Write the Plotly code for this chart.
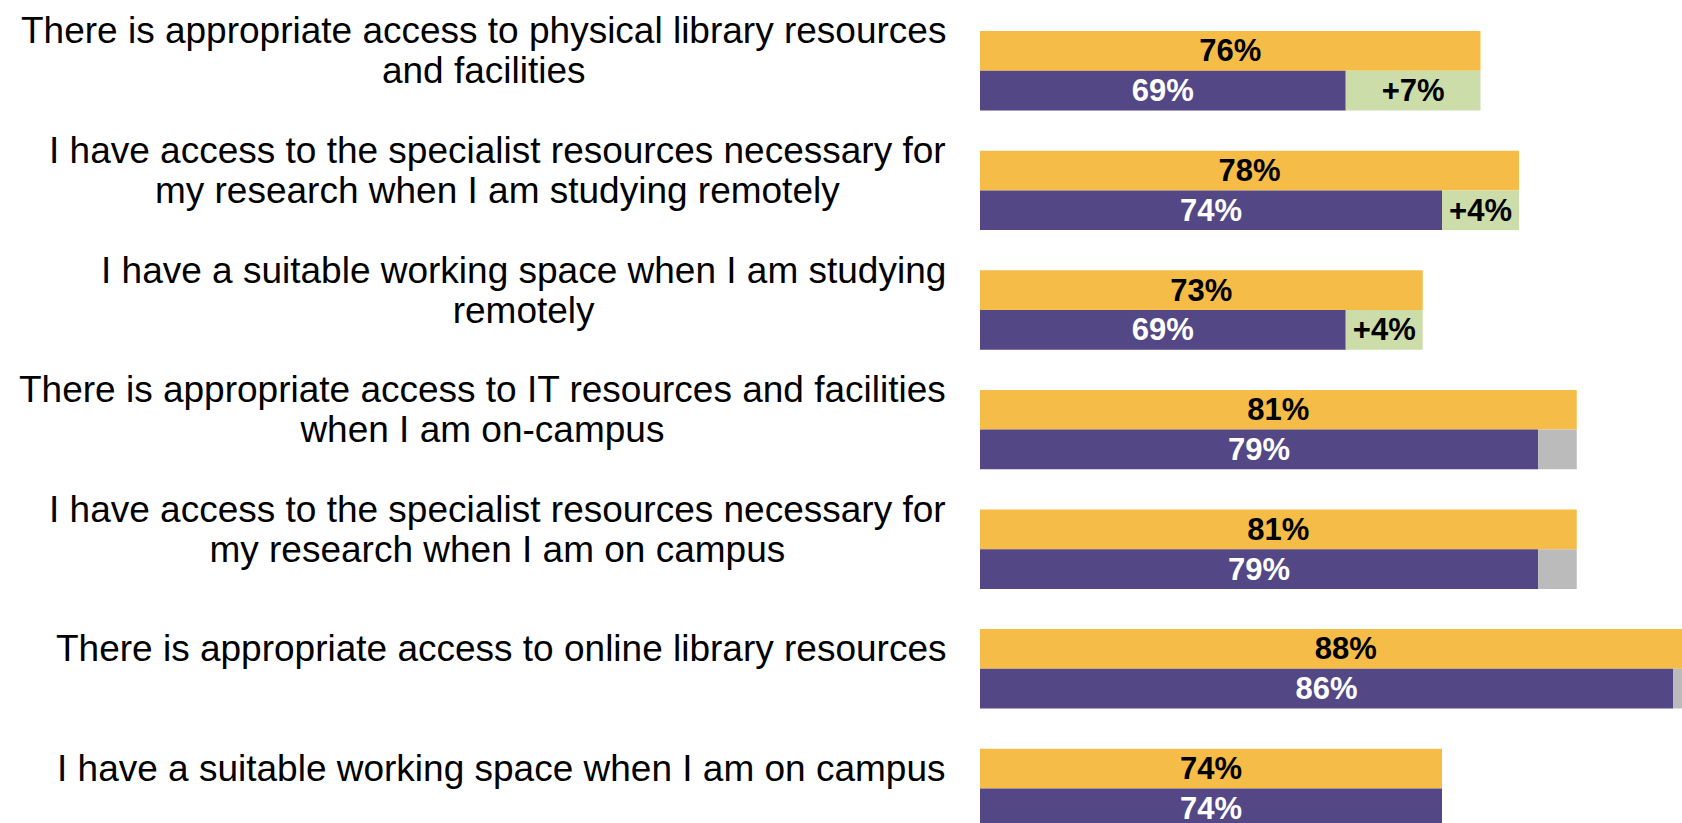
import plotly.graph_objects as go

# Survey statements, one row per statement
categories = [
    "There is appropriate access to physical library resources<br>and facilities",
    "I have access to the specialist resources necessary for<br>my research when I am studying remotely",
    "I have a suitable working space when I am studying<br>remotely",
    "There is appropriate access to IT resources and facilities<br>when I am on-campus",
    "I have access to the specialist resources necessary for<br>my research when I am on campus",
    "There is appropriate access to online library resources",
    "I have a suitable working space when I am on campus",
]

# Percentage agreeing (upper bar) and comparison group (lower bar)
top_values = [76, 78, 73, 81, 81, 88, 74]
bottom_values = [69, 74, 69, 79, 79, 86, 74]
# Whether the gap between the two is flagged as significant
significant = [True, True, True, False, False, False, False]

YELLOW = "#F5BD47"
PURPLE = "#544786"
GREEN = "#CCDDAA"
GREY = "#BBBBBB"

AXIS_MIN = 50
BAR_W = 0.332
LABEL_FONT = "Liberation Sans, Arial, sans-serif"

rows = list(range(len(categories)))
gaps = [t - b for t, b in zip(top_values, bottom_values)]

fig = go.Figure()

common = dict(
    orientation="h",
    base=AXIS_MIN,
    width=BAR_W,
    textposition="inside",
    insidetextanchor="middle",
    textangle=0,
    constraintext="none",
    hoverinfo="skip",
    marker_line_width=0,
)

fig.add_trace(go.Bar(
    y=rows,
    x=[v - AXIS_MIN for v in top_values],
    offset=-BAR_W,
    marker_color=YELLOW,
    text=[f"{v}%" for v in top_values],
    textfont=dict(family=LABEL_FONT, size=31, color="black", weight="bold"),
    **common,
))

fig.add_trace(go.Bar(
    y=rows,
    x=[v - AXIS_MIN for v in bottom_values],
    offset=0,
    marker_color=PURPLE,
    text=[f"{v}%" for v in bottom_values],
    textfont=dict(family=LABEL_FONT, size=31, color="white", weight="bold"),
    **{k: v for k, v in common.items()},
))

gap_common = {k: v for k, v in common.items() if k != "base"}
fig.add_trace(go.Bar(
    y=rows,
    x=gaps,
    base=bottom_values,
    offset=0,
    marker_color=[GREEN if s else GREY for s in significant],
    text=[f"+{g}%" if s and g > 0 else "" for g, s in zip(gaps, significant)],
    textfont=dict(family=LABEL_FONT, size=31, color="black", weight="bold"),
    **gap_common,
))

# Statement labels, right-aligned block with centred lines
for i, label in enumerate(categories):
    lines = label.split("<br>")
    txt = "<br>".join(f'<span style="font-size:37px">{ln}</span>' for ln in lines)
    fig.add_annotation(
        x=0, xref="paper", xshift=-32,
        y=i - BAR_W / 2, yref="y",
        xanchor="right", yanchor="middle",
        align="center",
        text=txt,
        showarrow=False,
        font=dict(family=LABEL_FONT, size=30.5, color="black"),
    )

fig.update_layout(
    width=1682,
    height=823,
    margin=dict(l=980, r=0, t=0, b=0),
    paper_bgcolor="white",
    plot_bgcolor="white",
    barmode="overlay",
    showlegend=False,
    xaxis=dict(range=[AXIS_MIN, AXIS_MIN + 702 / 19.25], visible=False, fixedrange=True),
    yaxis=dict(range=[6.289, -0.592], visible=False, fixedrange=True),
)

fig.write_html("out.html", config={"displayModeBar": False})
